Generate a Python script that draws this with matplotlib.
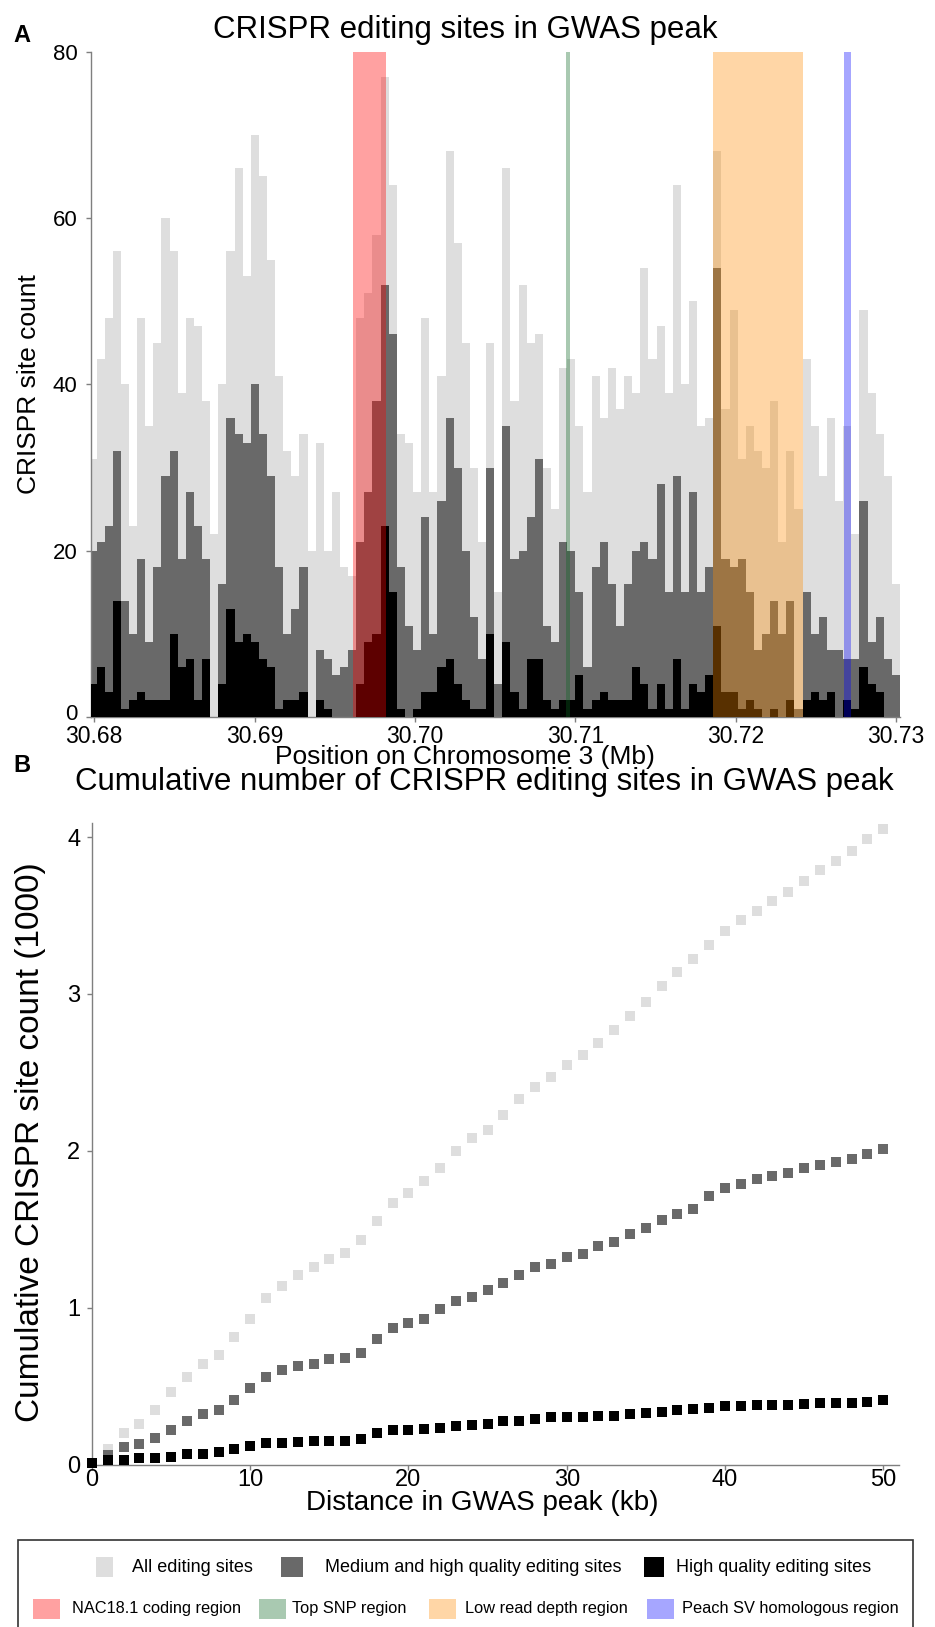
import numpy as np
import matplotlib
matplotlib.use("Agg")
import matplotlib.pyplot as plt
import matplotlib.transforms as mtransforms
from matplotlib.patches import Rectangle

plt.rcParams['font.family'] = ['Liberation Sans', 'DejaVu Sans']

# ---------------- Panel A: CRISPR site counts per ~500 bp bin ----------------
bin_start_mb = 30.67964
bin_end_mb = 30.73025
n_bins = 100

all_sites = [31, 43, 48, 56, 40, 23, 48, 35, 45, 60, 56, 39, 48, 47, 38, 22, 40, 56, 66, 53,
             70, 65, 55, 41, 32, 29, 34, 20, 33, 20, 27, 18, 17, 48, 51, 58, 77, 64, 34, 33,
             27, 48, 27, 41, 68, 57, 45, 30, 21, 45, 15, 66, 38, 52, 45, 46, 30, 25, 42, 43,
             35, 27, 41, 36, 42, 37, 41, 39, 54, 43, 47, 39, 64, 40, 50, 35, 36, 68, 37, 49,
             31, 35, 32, 30, 38, 21, 32, 25, 43, 35, 29, 36, 26, 35, 22, 49, 39, 34, 29, 16]
medium_high_sites = [20, 21, 23, 32, 14, 10, 19, 9, 18, 29, 32, 19, 27, 23, 19, 0, 16, 36, 34, 33,
                     40, 34, 29, 18, 10, 13, 18, 0, 8, 7, 5, 6, 8, 21, 27, 38, 52, 46, 18, 11,
                     8, 24, 10, 26, 36, 30, 20, 12, 7, 30, 4, 35, 19, 20, 24, 31, 11, 9, 21, 20,
                     15, 6, 18, 21, 16, 11, 16, 20, 21, 19, 28, 15, 29, 15, 27, 15, 18, 54, 19, 18,
                     19, 15, 8, 10, 14, 10, 14, 1, 15, 10, 12, 8, 8, 7, 7, 26, 9, 12, 7, 5]
high_sites = [4, 6, 3, 14, 1, 2, 3, 2, 2, 2, 10, 6, 7, 2, 7, 0, 4, 13, 9, 10,
              9, 7, 6, 1, 2, 2, 3, 0, 2, 1, 0, 0, 0, 4, 9, 10, 23, 15, 1, 0,
              1, 3, 3, 6, 7, 4, 2, 1, 1, 10, 0, 9, 3, 1, 7, 7, 2, 1, 2, 2,
              5, 1, 2, 3, 2, 2, 2, 6, 4, 1, 4, 1, 7, 1, 4, 3, 5, 11, 3, 3,
              1, 2, 1, 0, 1, 0, 2, 0, 2, 3, 2, 3, 0, 2, 1, 6, 4, 3, 0, 0]

# Annotated regions (Mb)
nac_region = (30.69615, 30.69822)
snp_region = (30.70942, 30.70967)
low_depth_region = (30.71861, 30.72423)
peach_sv_region = (30.72676, 30.72718)

x_ticks_a = [30.68, 30.69, 30.70, 30.71, 30.72, 30.73]
y_ticks_a = [0, 20, 40, 60, 80]

# ---------------- Panel B: cumulative counts per kb ----------------
distance_kb = list(range(51))
cum_all = [0.01, 0.10, 0.20, 0.26, 0.35, 0.46, 0.56, 0.64, 0.70, 0.81,
           0.93, 1.06, 1.14, 1.21, 1.26, 1.31, 1.35, 1.43, 1.55, 1.67,
           1.73, 1.81, 1.89, 2.00, 2.08, 2.13, 2.23, 2.33, 2.41, 2.47,
           2.55, 2.61, 2.69, 2.77, 2.86, 2.95, 3.05, 3.14, 3.22, 3.31,
           3.40, 3.47, 3.53, 3.59, 3.65, 3.72, 3.79, 3.85, 3.91, 3.99, 4.05]
cum_medium_high = [0.01, 0.06, 0.11, 0.13, 0.17, 0.22, 0.28, 0.32, 0.35, 0.41,
                   0.49, 0.56, 0.60, 0.63, 0.64, 0.67, 0.68, 0.71, 0.80, 0.87,
                   0.90, 0.93, 0.99, 1.04, 1.07, 1.11, 1.16, 1.21, 1.26, 1.28,
                   1.32, 1.34, 1.39, 1.42, 1.47, 1.51, 1.56, 1.60, 1.63, 1.71,
                   1.76, 1.79, 1.82, 1.84, 1.86, 1.89, 1.91, 1.93, 1.95, 1.98, 2.01]
cum_high = [0.01, 0.03, 0.03, 0.04, 0.04, 0.05, 0.07, 0.07, 0.08, 0.10,
            0.12, 0.14, 0.14, 0.145, 0.15, 0.15, 0.15, 0.16, 0.20, 0.22,
            0.22, 0.225, 0.23, 0.245, 0.25, 0.26, 0.28, 0.28, 0.29, 0.30,
            0.30, 0.30, 0.31, 0.31, 0.32, 0.33, 0.335, 0.35, 0.355, 0.36,
            0.37, 0.375, 0.38, 0.38, 0.38, 0.385, 0.39, 0.39, 0.395, 0.40, 0.41]

x_ticks_b = [0, 10, 20, 30, 40, 50]
y_ticks_b = [0, 1, 2, 3, 4]

# ---------------- styling ----------------
c_all = '#dedede'
c_med = '#696969'
c_high = '#000000'
c_nac = ('red', 0.37)
c_snp = ('#0a6520', 0.35)
c_low = ('darkorange', 0.35)
c_sv = ('blue', 0.35)
spine_col = '#7f7f7f'

W, H = 935, 1627
fig = plt.figure(figsize=(W / 100, H / 100), dpi=100)


def fx(px):
    return px / W


def fy(py):
    return 1 - py / H


def style_axes(ax, xsize, ysize, xpad, ypad):
    for side in ('top', 'right'):
        ax.spines[side].set_visible(False)
    for side in ('left', 'bottom'):
        ax.spines[side].set_color(spine_col)
        ax.spines[side].set_linewidth(1.0)
    ax.tick_params(axis='both', which='major', direction='out', length=3.5, width=1,
                   color=spine_col, labelcolor='black')
    ax.tick_params(axis='x', pad=xpad, labelsize=xsize)
    ax.tick_params(axis='y', pad=ypad, labelsize=ysize)


# Panel A
axA = fig.add_axes([fx(90.7), fy(717), fx(900 - 90.7), (717 - 51.7) / H])
edges = np.linspace(bin_start_mb, bin_end_mb, n_bins + 1)
axA.stairs(all_sites, edges, fill=True, color=c_all, linewidth=0, zorder=1)
axA.stairs(medium_high_sites, edges, fill=True, color=c_med, linewidth=0, zorder=2)
axA.stairs(high_sites, edges, fill=True, color=c_high, linewidth=0, zorder=3)
for (lo, hi), (col, a) in [(nac_region, c_nac), (snp_region, c_snp),
                           (low_depth_region, c_low), (peach_sv_region, c_sv)]:
    axA.axvspan(lo, hi, color=col, alpha=a, linewidth=0, zorder=4)
axA.set_xlim(30.67978, 30.73025)
axA.set_ylim(0, 80)
axA.set_xticks(x_ticks_a)
axA.set_xticklabels([f'{v:.2f}' for v in x_ticks_a])
axA.set_yticks(y_ticks_a)
style_axes(axA, 16.5, 16, 2, 6)
# lift the "0" label slightly so it clears the first position label
zero_label = axA.get_yticklabels()[0]
zero_label.set_transform(zero_label.get_transform() +
                         mtransforms.ScaledTranslation(0, 5 / 100, fig.dpi_scale_trans))

# Panel B
axB = fig.add_axes([fx(92), fy(1464.5), fx(899 - 92), (1464.5 - 823) / H])
msize = 6.5
axB.plot(distance_kb, cum_all, linestyle='none', marker='s', markersize=msize,
         color=c_all, markeredgewidth=0, clip_on=False, zorder=2)
axB.plot(distance_kb, cum_medium_high, linestyle='none', marker='s', markersize=msize,
         color=c_med, markeredgewidth=0, clip_on=False, zorder=3)
axB.plot(distance_kb, cum_high, linestyle='none', marker='s', markersize=msize,
         color=c_high, markeredgewidth=0, clip_on=False, zorder=4)
axB.set_xlim(0, 51)
axB.set_ylim(0, 4.09)
axB.set_xticks(x_ticks_b)
axB.set_yticks(y_ticks_b)
style_axes(axB, 17, 17, 0, 5)

# Titles, axis labels and panel letters
fig.text(fx(465), fy(30), 'CRISPR editing sites in GWAS peak', ha='center', va='center', fontsize=22.5)
fig.text(fx(465), fy(757), 'Position on Chromosome 3 (Mb)', ha='center', va='center', fontsize=19)
fig.text(fx(29), fy(384), 'CRISPR site count', ha='center', va='center', rotation=90, fontsize=19)
fig.text(fx(22), fy(36), 'A', ha='center', va='center', fontsize=17, fontweight='bold')

fig.text(fx(484), fy(782), 'Cumulative number of CRISPR editing sites in GWAS peak',
         ha='center', va='center', fontsize=22.5)
fig.text(fx(482), fy(1503), 'Distance in GWAS peak (kb)', ha='center', va='center', fontsize=20)
fig.text(fx(31), fy(1142), 'Cumulative CRISPR site count (1000)', ha='center', va='center',
         rotation=90, fontsize=24)
fig.text(fx(22), fy(765), 'B', ha='center', va='center', fontsize=17, fontweight='bold')

# Legend box
fig.patches.append(Rectangle((fx(18), fy(1632)), fx(913 - 18), (1632 - 1540) / H,
                             transform=fig.transFigure, fill=False, edgecolor='#333333',
                             linewidth=1.2))


def legend_item(x_patch, y_center, width, color, alpha, label, x_text, size):
    fig.patches.append(Rectangle((fx(x_patch), fy(y_center + 10)), fx(width), 20 / H,
                                 transform=fig.transFigure, facecolor=color, alpha=alpha,
                                 edgecolor='none'))
    fig.text(fx(x_text), fy(y_center), label, ha='left', va='center', fontsize=size)


row1 = 1567
legend_item(96, row1, 17, c_all, 1.0, 'All editing sites', 132, 13)
legend_item(281, row1, 22, c_med, 1.0, 'Medium and high quality editing sites', 325, 13)
legend_item(644, row1, 20, c_high, 1.0, 'High quality editing sites', 676, 13)

row2 = 1609
legend_item(33, row2, 27, c_nac[0], c_nac[1], 'NAC18.1 coding region', 72, 11.8)
legend_item(259, row2, 27, c_snp[0], c_snp[1], 'Top SNP region', 292, 11.8)
legend_item(429, row2, 27, c_low[0], c_low[1], 'Low read depth region', 465, 11.8)
legend_item(647, row2, 27, c_sv[0], c_sv[1], 'Peach SV homologous region', 682, 11.8)

fig.savefig('out.png', dpi=100)
